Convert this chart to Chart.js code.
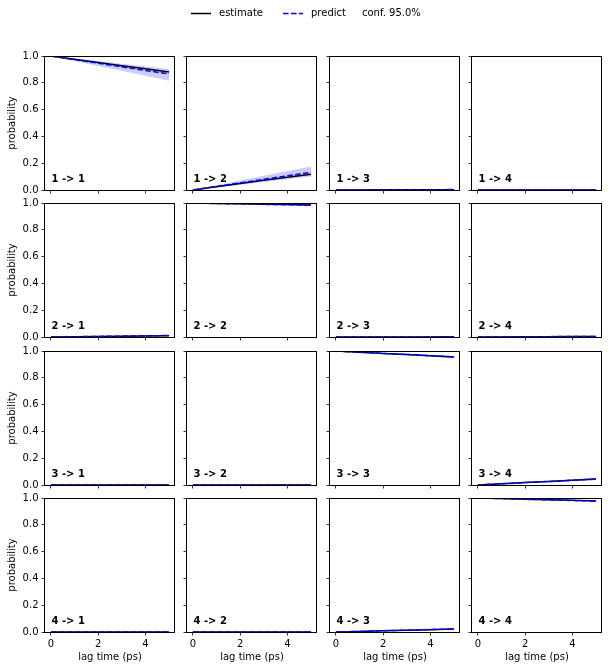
<!DOCTYPE html>
<html><head><meta charset="utf-8">
<script src="https://cdn.jsdelivr.net/npm/chart.js@4.4.1/dist/chart.umd.min.js"></script>
<style>
html,body{margin:0;padding:0;background:#fff;}
#wrap{position:relative;width:612px;height:670px;overflow:hidden;background:#fff;}
#wrap canvas{position:absolute;left:0;top:0;}
</style></head><body><div id="wrap"></div>
<script>
// ---------- data ----------
const lagTimes = [0, 1, 2, 3, 4, 5];
const states = ['1', '2', '3', '4'];
const xTicks = [0, 2, 4];
const yTicks = [0, 0.2, 0.4, 0.6, 0.8, 1.0];
const legendLabels = ['estimate', 'predict', 'conf. 95.0%'];
const xTitle = 'lag time (ps)';
const yTitle = 'probability';

// 1 -> j
const est11 = [1.000, 0.976, 0.952, 0.928, 0.904, 0.880];
const pred11 = [1.000, 0.973, 0.946, 0.919, 0.892, 0.866];
const lo11 = [1.000, 0.963, 0.926, 0.889, 0.852, 0.815];
const hi11 = [1.000, 0.981, 0.962, 0.943, 0.923, 0.902];
const est12 = [0.000, 0.024, 0.048, 0.072, 0.096, 0.118];
const pred12 = [0.000, 0.027, 0.053, 0.080, 0.106, 0.132];
const lo12 = [0.000, 0.020, 0.040, 0.060, 0.080, 0.100];
const hi12 = [0.000, 0.035, 0.070, 0.106, 0.141, 0.176];
const est13 = [0.000, 0.0005, 0.001, 0.0015, 0.002, 0.0025];
const pred13 = [0.000, 0.0006, 0.0012, 0.0018, 0.0024, 0.003];
const lo13 = [0.000, 0.0003, 0.0006, 0.0009, 0.0012, 0.0015];
const hi13 = [0.000, 0.0009, 0.0018, 0.0027, 0.0036, 0.0045];
const est14 = [0.000, 0.0001, 0.0002, 0.0003, 0.0004, 0.0005];
const pred14 = [0.000, 0.0001, 0.0002, 0.0003, 0.0004, 0.0005];
const lo14 = [0.000, 0.0000, 0.0001, 0.0001, 0.0002, 0.0002];
const hi14 = [0.000, 0.0002, 0.0004, 0.0006, 0.0008, 0.0010];
// 2 -> j
const est21 = [0.000, 0.002, 0.004, 0.006, 0.008, 0.010];
const pred21 = [0.000, 0.0022, 0.0044, 0.0066, 0.0088, 0.011];
const lo21 = [0.000, 0.0016, 0.0032, 0.0048, 0.0064, 0.008];
const hi21 = [0.000, 0.0028, 0.0056, 0.0084, 0.0112, 0.014];
const est22 = [1.000, 0.997, 0.994, 0.991, 0.988, 0.985];
const pred22 = [1.000, 0.9968, 0.9936, 0.9904, 0.9872, 0.984];
const lo22 = [1.000, 0.996, 0.992, 0.988, 0.984, 0.980];
const hi22 = [1.000, 0.9976, 0.9952, 0.9928, 0.9904, 0.988];
const est23 = [0.000, 0.0002, 0.0004, 0.0006, 0.0008, 0.001];
const pred23 = [0.000, 0.0002, 0.0004, 0.0006, 0.0008, 0.001];
const lo23 = [0.000, 0.0001, 0.0002, 0.0003, 0.0004, 0.0005];
const hi23 = [0.000, 0.0003, 0.0006, 0.0009, 0.0012, 0.0015];
const est24 = [0.000, 0.0008, 0.0016, 0.0024, 0.0032, 0.004];
const pred24 = [0.000, 0.0009, 0.0018, 0.0027, 0.0036, 0.0045];
const lo24 = [0.000, 0.0006, 0.0012, 0.0018, 0.0024, 0.003];
const hi24 = [0.000, 0.0012, 0.0024, 0.0036, 0.0048, 0.006];
// 3 -> j
const est31 = [0.000, 0.0001, 0.0001, 0.0002, 0.0002, 0.0003];
const pred31 = [0.000, 0.0001, 0.0001, 0.0002, 0.0002, 0.0003];
const lo31 = [0.000, 0.0000, 0.0000, 0.0001, 0.0001, 0.0001];
const hi31 = [0.000, 0.0001, 0.0002, 0.0003, 0.0004, 0.0005];
const est32 = [0.000, 0.0001, 0.0002, 0.0003, 0.0004, 0.0005];
const pred32 = [0.000, 0.0001, 0.0002, 0.0003, 0.0004, 0.0005];
const lo32 = [0.000, 0.0000, 0.0001, 0.0001, 0.0002, 0.0002];
const hi32 = [0.000, 0.0002, 0.0004, 0.0006, 0.0008, 0.0010];
const est33 = [1.000, 0.991, 0.982, 0.973, 0.964, 0.955];
const pred33 = [1.000, 0.9912, 0.9824, 0.9736, 0.9648, 0.956];
const lo33 = [1.000, 0.9895, 0.979, 0.9685, 0.958, 0.9475];
const hi33 = [1.000, 0.9925, 0.985, 0.9775, 0.970, 0.9625];
const est34 = [0.000, 0.009, 0.018, 0.027, 0.036, 0.045];
const pred34 = [0.000, 0.0088, 0.0176, 0.0264, 0.0352, 0.044];
const lo34 = [0.000, 0.0075, 0.015, 0.0225, 0.030, 0.0375];
const hi34 = [0.000, 0.0105, 0.021, 0.0315, 0.042, 0.0525];
// 4 -> j
const est41 = [0.000, 0.0001, 0.0001, 0.0002, 0.0002, 0.0003];
const pred41 = [0.000, 0.0001, 0.0001, 0.0002, 0.0002, 0.0003];
const lo41 = [0.000, 0.0000, 0.0000, 0.0001, 0.0001, 0.0001];
const hi41 = [0.000, 0.0001, 0.0002, 0.0003, 0.0004, 0.0005];
const est42 = [0.000, 0.0001, 0.0002, 0.0003, 0.0004, 0.0005];
const pred42 = [0.000, 0.0001, 0.0002, 0.0003, 0.0004, 0.0005];
const lo42 = [0.000, 0.0000, 0.0001, 0.0001, 0.0002, 0.0002];
const hi42 = [0.000, 0.0002, 0.0004, 0.0006, 0.0008, 0.0010];
const est43 = [0.000, 0.0044, 0.0088, 0.0132, 0.0176, 0.022];
const pred43 = [0.000, 0.0046, 0.0092, 0.0138, 0.0184, 0.023];
const lo43 = [0.000, 0.0036, 0.0072, 0.0108, 0.0144, 0.018];
const hi43 = [0.000, 0.0054, 0.0108, 0.0162, 0.0216, 0.027];
const est44 = [1.000, 0.9956, 0.9912, 0.9868, 0.9824, 0.978];
const pred44 = [1.000, 0.9954, 0.9908, 0.9862, 0.9816, 0.977];
const lo44 = [1.000, 0.9946, 0.9892, 0.9838, 0.9784, 0.973];
const hi44 = [1.000, 0.9964, 0.9928, 0.9892, 0.9856, 0.982];

const panelData = [
  [[est11, pred11, lo11, hi11], [est12, pred12, lo12, hi12], [est13, pred13, lo13, hi13], [est14, pred14, lo14, hi14]],
  [[est21, pred21, lo21, hi21], [est22, pred22, lo22, hi22], [est23, pred23, lo23, hi23], [est24, pred24, lo24, hi24]],
  [[est31, pred31, lo31, hi31], [est32, pred32, lo32, hi32], [est33, pred33, lo33, hi33], [est34, pred34, lo34, hi34]],
  [[est41, pred41, lo41, hi41], [est42, pred42, lo42, hi42], [est43, pred43, lo43, hi43], [est44, pred44, lo44, hi44]]
];

// ---------- layout / style ----------
const W = 612, H = 670;
const colLeft = [45, 187, 330, 472];
const rowTop = [56, 203, 351, 498];
const panelW = 130, panelH = 134;
const FONT = "'DejaVu Sans', sans-serif";
Chart.defaults.font.family = FONT;
Chart.defaults.font.size = 10;
Chart.defaults.color = '#000';

const wrap = document.getElementById('wrap');
function newCanvas(w, h) {
  const cv = document.createElement('canvas');
  cv.width = w; cv.height = h;
  cv.style.width = w + 'px'; cv.style.height = h + 'px';
  wrap.appendChild(cv);
  return cv;
}
function xy(arr) { return lagTimes.map((x, i) => ({x: x, y: arr[i]})); }

const framePlugin = {
  id: 'frameAndLabel',
  afterDraw(chart, args, opts) {
    const ca = chart.chartArea, ctx = chart.ctx;
    ctx.save();
    ctx.strokeStyle = '#000';
    ctx.lineWidth = 1;
    ctx.strokeRect(Math.round(ca.left) - 0.5, Math.round(ca.top) + 0.5,
                   Math.round(ca.right) - Math.round(ca.left), Math.round(ca.bottom) - Math.round(ca.top));
    ctx.fillStyle = '#000';
    ctx.font = 'bold 10px ' + FONT;
    ctx.textAlign = 'left';
    ctx.textBaseline = 'alphabetic';
    ctx.fillText(opts.text, ca.left + 0.05 * (ca.right - ca.left), ca.bottom - 8.3);
    ctx.restore();
  }
};

function makePanel(r, c) {
  const d = panelData[r][c];
  const L = colLeft[c], T = rowTop[r], R = L + panelW, B = T + panelH;
  const YW = colLeft[0];
  const XH = H - (rowTop[3] + panelH);
  const first = c === 0, last = r === 3;
  const grid = {display: true, drawOnChartArea: false, drawTicks: true, tickLength: 3.5, color: '#000', lineWidth: 0.8};
  new Chart(newCanvas(W, H), {
    type: 'line',
    data: {datasets: [
      {label: legendLabels[1], data: xy(d[1]), borderColor: '#0000ff', borderDash: [5.55, 2.4], borderWidth: 1.5, pointRadius: 0, fill: false, tension: 0, clip: 0},
      {label: legendLabels[0], data: xy(d[0]), borderColor: '#000000', borderWidth: 1.5, pointRadius: 0, fill: false, tension: 0, clip: 0},
      {label: 'conf low', data: xy(d[2]), borderColor: 'rgba(0,0,0,0)', borderWidth: 1, pointRadius: 0, fill: false, tension: 0, clip: 0},
      {label: legendLabels[2], data: xy(d[3]), borderColor: 'rgba(0,0,0,0)', borderWidth: 1, pointRadius: 0, fill: '-1', backgroundColor: 'rgba(0,0,255,0.2)', tension: 0, clip: 0}
    ]},
    options: {
      responsive: false, animation: false, devicePixelRatio: 1,
      layout: {padding: {left: L - YW, top: T, right: W - R, bottom: H - B - XH}},
      plugins: {legend: {display: false}, tooltip: {enabled: false},
                frameAndLabel: {text: states[r] + ' -> ' + states[c]}},
      scales: {
        x: {type: 'linear', min: -0.25, max: 5.25,
            afterBuildTicks: s => { s.ticks = xTicks.map(v => ({value: v})); },
            afterFit: s => { s.height = XH; },
            border: {display: false}, grid: grid,
            ticks: {display: last, padding: 3, color: '#000', maxRotation: 0, callback: v => String(v)},
            title: {display: last, text: xTitle, color: '#000', padding: {top: 0, bottom: 7}}},
        y: {type: 'linear', min: 0, max: 1,
            afterBuildTicks: s => { s.ticks = yTicks.map(v => ({value: v})); },
            afterFit: s => { s.width = YW; },
            border: {display: false}, grid: grid,
            ticks: {display: first, padding: 3, color: '#000', callback: v => Number(v).toFixed(1)},
            title: {display: first, text: yTitle, color: '#000', padding: {top: 6, bottom: 0}}}
      }
    },
    plugins: [framePlugin]
  });
}

for (let r = 0; r < 4; r++) for (let c = 0; c < 4; c++) makePanel(r, c);

// ---------- legend ----------
const legendPlugin = {
  id: 'figLegend',
  afterDraw(chart) {
    const ctx = chart.ctx;
    const ds = chart.data.datasets;
    const y = 13;
    const items = [{x0: 191, tx: 219}, {x0: 283, tx: 311}, {x0: null, tx: 362}];
    ctx.save();
    ctx.font = '10px ' + FONT;
    ctx.textBaseline = 'middle';
    ctx.textAlign = 'left';
    ds.forEach((d, i) => {
      const it = items[i];
      if (it.x0 !== null) {
        ctx.beginPath();
        ctx.strokeStyle = d.borderColor;
        ctx.lineWidth = 1.5;
        ctx.setLineDash(d.borderDash || []);
        ctx.moveTo(it.x0, y + 0.5);
        ctx.lineTo(it.x0 + 20, y + 0.5);
        ctx.stroke();
        ctx.setLineDash([]);
      }
      ctx.fillStyle = '#000';
      ctx.fillText(d.label, it.tx, y);
    });
    ctx.restore();
  }
};
new Chart(newCanvas(W, 30), {
  type: 'line',
  data: {datasets: [
    {label: legendLabels[0], data: [], borderColor: '#000000'},
    {label: legendLabels[1], data: [], borderColor: '#0000ff', borderDash: [5.55, 2.4]},
    {label: legendLabels[2], data: [], borderColor: 'rgba(0,0,255,0.2)'}
  ]},
  options: {responsive: false, animation: false, devicePixelRatio: 1,
            plugins: {legend: {display: false}, tooltip: {enabled: false}},
            scales: {x: {display: false}, y: {display: false}}},
  plugins: [legendPlugin]
});
</script></body></html>
